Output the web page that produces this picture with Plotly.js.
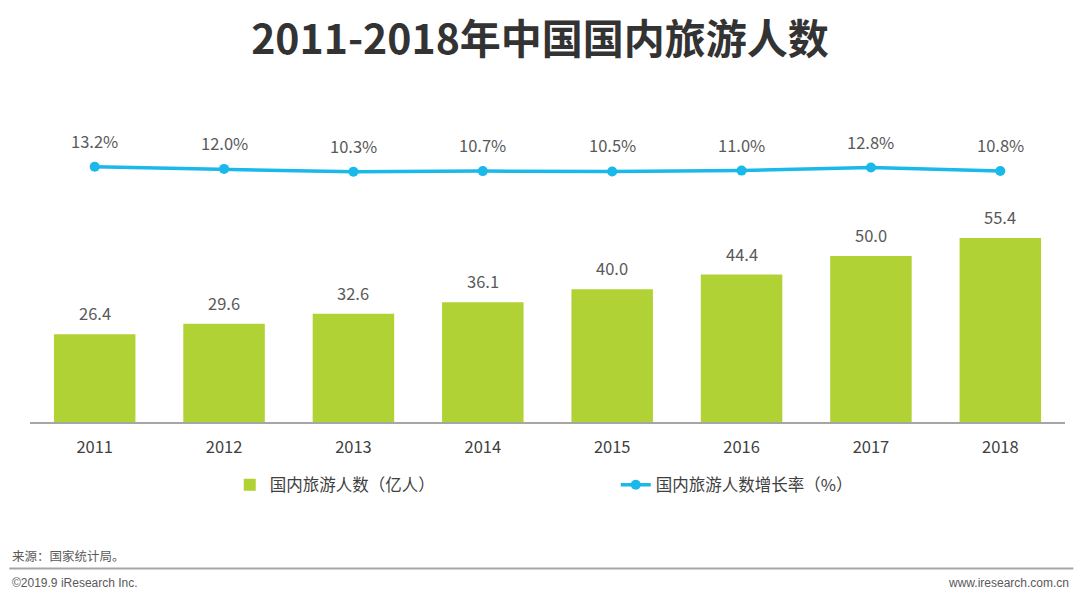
<!DOCTYPE html>
<html><head><meta charset="utf-8">
<script src="https://cdn.plot.ly/plotly-3.0.1.min.js"></script>
<style>html,body{margin:0;padding:0;background:#fff;}#chart{width:1080px;height:603px;}</style>
</head><body><div id="chart"></div>
<script>
const years = ['2011','2012','2013','2014','2015','2016','2017','2018'];
const tourists = [26.4, 29.6, 32.6, 36.1, 40.0, 44.4, 50.0, 55.4];
const growth = [13.2, 12.0, 10.3, 10.7, 10.5, 11.0, 12.8, 10.8];
const barName = '国内旅游人数（亿人）';
const lineName = '国内旅游人数增长率（%）';

const font = "'Microsoft YaHei','Noto Sans CJK SC','Noto Sans',sans-serif";
const traces = [
  {type:'bar', x:years, y:tourists, name:barName, marker:{color:'#b0d235'}, width:0.63, hoverinfo:'skip'},
  {type:'scatter', mode:'lines+markers', x:years, y:growth, yaxis:'y2', name:lineName,
   line:{color:'#1bb8ea',width:3.5}, marker:{color:'#1bb8ea',size:10}, hoverinfo:'skip'}
];
const labelFont = {size:16.5,color:'#595959',family:font};
// category axis: annotation x given as the category index
const barLabels = years.map((yr,i)=>({x:i, y:tourists[i], xref:'x', yref:'y', text:tourists[i].toFixed(1),
  showarrow:false, yanchor:'middle', yshift:21, font:labelFont}));
const lineLabels = years.map((yr,i)=>({x:i, y:growth[i], xref:'x', yref:'y2', text:growth[i].toFixed(1)+'%',
  showarrow:false, yanchor:'middle', yshift:26, font:labelFont}));
const layout = {
  width:1080, height:603, paper_bgcolor:'#fff', plot_bgcolor:'#fff',
  margin:{l:30,r:15,t:100,b:181,autoexpand:false},
  font:{family:font,color:'#404040'},
  title:{text:'<b>2011-2018年中国国内旅游人数</b>', x:0.5, xanchor:'center', y:0.935, yanchor:'middle',
    font:{size:41,color:'#333333',family:font}},
  bargap:0.37,
  xaxis:{type:'category', range:[-0.5, years.length-0.5], showgrid:false, zeroline:false, showline:true, linecolor:'#a6a6a6', linewidth:1.5,
    ticks:'', ticklabelstandoff:10, tickfont:{size:16.5,color:'#404040'}, fixedrange:true},
  yaxis:{range:[0,97], visible:false, fixedrange:true},
  yaxis2:{overlaying:'y', range:[-135,52], visible:false, fixedrange:true},
  showlegend:true,
  legend:{orientation:'h', x:0.193, xanchor:'left', y:-0.196, yanchor:'middle', entrywidth:341, entrywidthmode:'pixels',
    font:{size:16.5,color:'#404040'}, traceorder:'normal'},
  shapes:[{type:'line', xref:'paper', yref:'paper', x0:-0.02, x1:1.008, y0:-0.455, y1:-0.455, line:{color:'#a6a6a6',width:2}}],
  annotations:barLabels.concat(lineLabels, [
    {text:'来源：国家统计局。', xref:'paper', yref:'paper', x:-0.0195, y:-0.415, xanchor:'left', yanchor:'middle', showarrow:false, font:{size:12.5,color:'#595959'}},
    {text:'©2019.9 iResearch Inc.', xref:'paper', yref:'paper', x:-0.0195, y:-0.5, xanchor:'left', yanchor:'middle', showarrow:false, font:{size:12,color:'#595959',family:"'Liberation Sans',Arial,sans-serif"}},
    {text:'www.iresearch.com.cn', xref:'paper', yref:'paper', x:1.006, y:-0.5, xanchor:'right', yanchor:'middle', showarrow:false, font:{size:12,color:'#595959',family:"'Liberation Sans',Arial,sans-serif"}}
  ])
};
Plotly.newPlot('chart', traces, layout, {displayModeBar:false, staticPlot:true});
</script></body></html>
